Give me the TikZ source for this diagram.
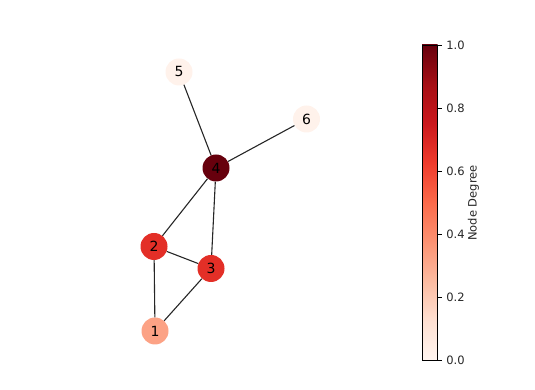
\documentclass[tikz,border=0pt]{standalone}
\usepackage{fontspec}
\setmainfont{DejaVu Sans}
\usetikzlibrary{calc}

% Reds colour map
\definecolor{reds0}{HTML}{FFF5F0}
\definecolor{reds1}{HTML}{FEE0D2}
\definecolor{reds2}{HTML}{FCBBA1}
\definecolor{reds3}{HTML}{FC9272}
\definecolor{reds4}{HTML}{FB6A4A}
\definecolor{reds5}{HTML}{EF3B2C}
\definecolor{reds6}{HTML}{CB181D}
\definecolor{reds7}{HTML}{A50F15}
\definecolor{reds8}{HTML}{67000D}
\definecolor{degone}{HTML}{FFF2EB}
\definecolor{degtwo}{HTML}{FCA285}
\definecolor{degthree}{HTML}{E32F27}
\definecolor{degfour}{HTML}{67000D}

\begin{document}
\begin{tikzpicture}[x=1pt, y=1pt,
    vertex/.style={circle, minimum size=27pt, inner sep=0pt,
      font=\fontsize{14}{16}\selectfont},
    edge/.style={line width=1.1pt, black!85},
    ticklab/.style={font=\fontsize{11.5}{13}\selectfont, text=black!85}]
    \useasboundingbox (0, 0) rectangle (535, 390);

    \node [vertex, fill=degone] (n5) at (179, 318) {5};
    \node [vertex, fill=degone] (n6) at (306.5, 271) {6};
    \node [vertex, fill=degfour] (n4) at (216, 222) {4};
    \node [vertex, fill=degthree] (n2) at (154, 143.5) {2};
    \node [vertex, fill=degthree] (n3) at (211, 121.5) {3};
    \node [vertex, fill=degtwo] (n1) at (155, 59) {1};

    \draw [edge] (n4) -- (n5);
    \draw [edge] (n4) -- (n6);
    \draw [edge] (n4) -- (n2);
    \draw [edge] (n4) -- (n3);
    \draw [edge] (n2) -- (n3);
    \draw [edge] (n2) -- (n1);
    \draw [edge] (n3) -- (n1);

    % colour bar
    \coordinate (cbl) at (422, 30);
    \coordinate (cbr) at (437.5, 345);
    \foreach \i [evaluate=\i as \j using int(\i+1)] in {0,...,7}
        \shade [bottom color=reds\i, top color=reds\j, shading angle=0]
            (422, 30+\i*39.375) rectangle (437.5, 30+\j*39.375+0.3);
    \draw [line width=0.8pt] (cbl) rectangle (cbr);
    \foreach \v/\lab in {0/0.0, 1/0.2, 2/0.4, 3/0.6, 4/0.8, 5/1.0}
        \draw [line width=0.8pt] (437.5, 30+\v*63) -- ++(4.5, 0)
            node [right, ticklab, inner sep=4pt] (tick\v) {\lab};

    \node [ticklab, rotate=90] (cblabel) at (473.5, 187) {Node Degree};

\end{tikzpicture}
\end{document}
